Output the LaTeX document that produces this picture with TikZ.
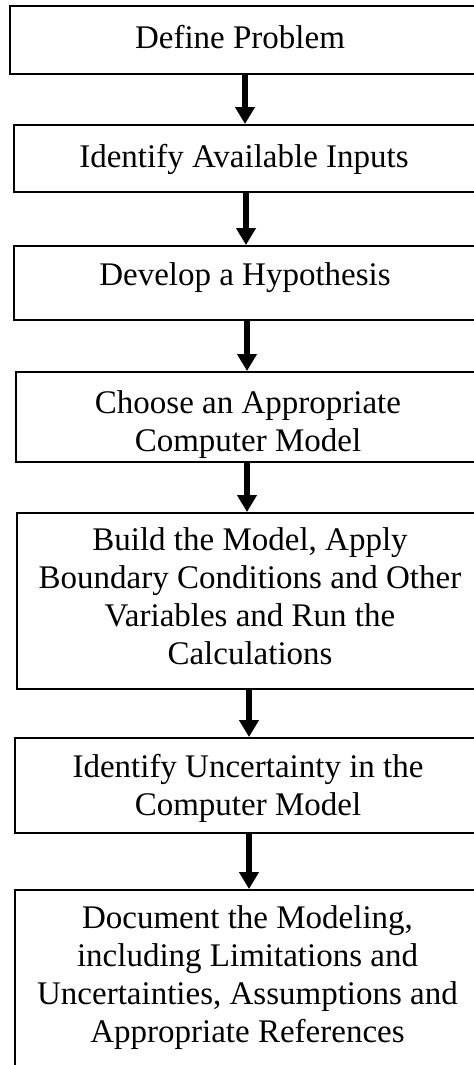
\documentclass[tikz,border=0pt]{standalone}
\usepackage{fontspec}
\setmainfont{Liberation Serif}
\usetikzlibrary{arrows.meta}
\tikzset{
  box/.style={draw=black, line width=1.5pt, rectangle, inner sep=0pt, anchor=center},
  label/.style={align=center, anchor=base, inner sep=0pt, font=\fontsize{24.75pt}{28.5pt}\selectfont},
  arr/.style={line width=4.5pt, -{Triangle[width=14.25pt,length=12.75pt]}}
}
\begin{document}
\begin{tikzpicture}[x=0.75pt, y=-0.75pt]
\useasboundingbox (0,0) rectangle (474,1065);
% boxes
\node[box, minimum width=349.5pt, minimum height=51pt] (b1) at (243,40) {};
\node[box, minimum width=346.5pt, minimum height=50.25pt] (b2) at (245,158.5) {};
\node[box, minimum width=348pt, minimum height=55.5pt] (b3) at (246,283) {};
\node[box, minimum width=348pt, minimum height=67.5pt] (b4) at (248,417) {};
\node[box, minimum width=349.5pt, minimum height=132pt] (b5) at (250,601) {};
\node[box, minimum width=349.5pt, minimum height=71.25pt] (b6) at (248,785.5) {};
\node[box, minimum width=348.75pt, minimum height=150pt] (b7) at (247.5,990) {};
% texts (base anchor = baseline of last line)
\node[label] (t1) at (240,48) {Define Problem};
\node[label] (t2) at (244,167) {Identify Available Inputs};
\node[label] (t3) at (245,285) {Develop a Hypothesis};
\node[label] (t4) at (248,451) {Choose an Appropriate\\Computer Model};
\node[label] (t5) at (250,664) {Build the Model, Apply\\Boundary Conditions and Other\\Variables and Run the\\Calculations};
\node[label] (t6) at (248,815) {Identify Uncertainty in the\\Computer Model};
\node[label] (t7) at (247.5,1042) {Document the Modeling,\\including Limitations and\\Uncertainties, Assumptions and\\Appropriate References};
% arrows
\draw[arr] ([xshift=1.5pt]b1.south) -- (b2.north);
\draw[arr] ([xshift=0.75pt]b2.south) -- (b3.north);
\draw[arr] ([xshift=0.75pt]b3.south) -- ([xshift=-0.75pt]b4.north) ;
\draw[arr] ([xshift=-0.75pt]b4.south) -- ([xshift=-2.25pt]b5.north);
\draw[arr] ([xshift=-0.75pt]b5.south) -- ([xshift=0.75pt]b6.north);
\draw[arr] ([xshift=0.75pt]b6.south) -- ([xshift=1.125pt]b7.north);
\end{tikzpicture}
\end{document}
